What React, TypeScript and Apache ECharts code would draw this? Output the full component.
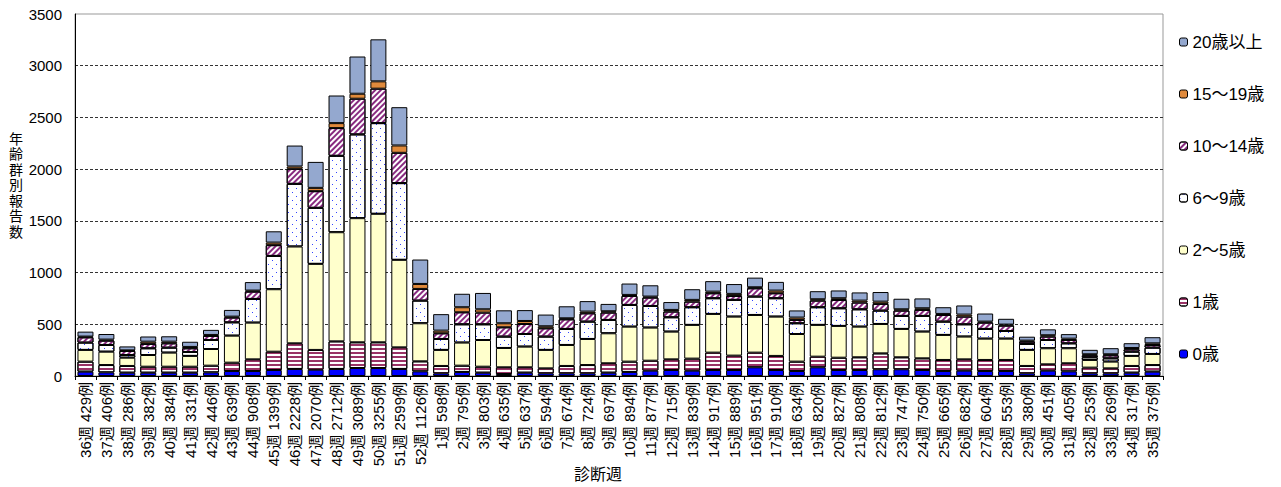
import React, { useEffect, useRef } from "react";
import * as echarts from "echarts";

const weeks = [
  "36週", "37週", "38週", "39週", "40週", "41週", "42週", "43週", "44週", "45週",
  "46週", "47週", "48週", "49週", "50週", "51週", "52週",
  "1週", "2週", "3週", "4週", "5週", "6週", "7週", "8週", "9週", "10週",
  "11週", "12週", "13週", "14週", "15週", "16週", "17週", "18週", "19週", "20週",
  "21週", "22週", "23週", "24週", "25週", "26週", "27週", "28週", "29週", "30週",
  "31週", "32週", "33週", "34週", "35週",
];

const totals = [
  429, 406, 286, 382, 384, 331, 446, 639, 908, 1399, 2228, 2070, 2712, 3089, 3255, 2599, 1126,
  598, 795, 803, 635, 637, 594, 674, 724, 697, 894, 877, 715, 839, 917, 889, 951, 910, 634,
  820, 827, 808, 812, 747, 750, 665, 682, 604, 553, 380, 451, 405, 253, 269, 317, 375,
];

const age0 = [
  42, 35, 32, 32, 32, 32, 35, 48, 48, 58, 68, 61, 68, 77, 77, 68, 45,
  26, 39, 32, 19, 32, 26, 26, 26, 32, 39, 52, 58, 52, 58, 58, 84, 58, 48,
  84, 58, 58, 65, 65, 58, 48, 52, 48, 48, 26, 52, 45, 26, 26, 32, 42,
];
const age1 = [
  97, 71, 65, 58, 58, 58, 65, 81, 113, 177, 248, 191, 267, 249, 249, 209, 97,
  71, 61, 58, 65, 52, 48, 71, 80, 91, 100, 96, 103, 116, 168, 139, 142, 136, 91,
  103, 119, 123, 154, 116, 113, 107, 109, 107, 107, 71, 61, 78, 55, 48, 65, 64,
];
const age2to5 = [
  113, 129, 80, 113, 136, 104, 161, 261, 355, 604, 936, 832, 1055, 1200, 1242, 846, 368,
  155, 223, 258, 187, 200, 178, 203, 252, 290, 338, 320, 268, 326, 374, 377, 364, 380, 267,
  307, 307, 296, 284, 274, 258, 242, 220, 206, 206, 155, 155, 145, 74, 65, 97, 107,
];
const age6to9 = [
  71, 65, 26, 65, 48, 38, 87, 129, 229, 322, 606, 542, 739, 810, 877, 742, 219,
  106, 177, 152, 110, 122, 129, 155, 168, 129, 210, 209, 139, 171, 152, 162, 178, 178, 104,
  171, 171, 168, 129, 126, 152, 129, 119, 94, 74, 58, 80, 48, 26, 32, 41, 61,
];
const age10to14 = [
  51, 42, 39, 42, 42, 36, 39, 46, 71, 104, 145, 161, 268, 345, 333, 293, 113,
  55, 116, 113, 90, 97, 80, 93, 80, 71, 87, 81, 55, 54, 48, 38, 80, 48, 32,
  64, 80, 65, 65, 51, 58, 64, 74, 61, 52, 22, 33, 32, 19, 29, 23, 26,
];
const age15to19 = [
  7, 10, 6, 22, 16, 13, 10, 9, 10, 25, 23, 32, 48, 48, 71, 71, 48,
  26, 49, 32, 39, 29, 20, 10, 17, 13, 10, 10, 16, 17, 16, 20, 10, 26, 23,
  13, 17, 19, 22, 13, 16, 10, 20, 10, 10, 10, 13, 13, 10, 10, 13, 16,
];
const age20plus = [
  48, 54, 38, 50, 52, 50, 49, 65, 82, 109, 202, 251, 267, 360, 406, 370, 236,
  159, 130, 158, 125, 105, 113, 116, 101, 71, 110, 109, 76, 103, 101, 95, 93, 84, 69,
  78, 75, 79, 93, 102, 95, 65, 88, 78, 56, 38, 57, 44, 43, 59, 46, 59,
];

const seriesNames = ["0歳", "1歳", "2～5歳", "6～9歳", "10～14歳", "15～19歳", "20歳以上"];
const yTicks = { min: 0, max: 3500, interval: 500 };
const yAxisTitle = "年齢群別報告数";
const xAxisTitle = "診断週";

const FONT = "'Liberation Sans', 'Noto Sans CJK JP', sans-serif";

export default function App() {
  const ref = useRef<HTMLDivElement>(null);

  useEffect(() => {
    if (!ref.current) return;
    const chart = echarts.init(ref.current, null, { renderer: "svg" });
    const categories = weeks.map((w, i) => `${w} ${totals[i]}例`);
    const dataSets = [age0, age1, age2to5, age6to9, age10to14, age15to19, age20plus];

    const styles: any[] = [
      { color: "#0000ff" },
      {
        color: "#ffffff",
        decal: {
          symbol: "rect", symbolSize: 1, color: "#993366",
          dashArrayX: [1, 0], dashArrayY: [2, 2], rotation: 0,
        },
      },
      { color: "#ffffcc" },
      {
        color: "#ffffff",
        decal: {
          symbol: "rect", symbolSize: 1, color: "#3344ff",
          dashArrayX: [[1, 7], [0, 4, 1, 3]], dashArrayY: [1, 3], rotation: 0,
        },
      },
      {
        color: "#ffffff",
        decal: {
          symbol: "rect", symbolSize: 1, color: "#882a80",
          dashArrayX: [1, 0], dashArrayY: [2, 2], rotation: -Math.PI / 4,
        },
      },
      { color: "#e08a3c" },
      { color: "#94a8cf" },
    ];

    const series = seriesNames.map((name, k) => ({
      name,
      type: "bar",
      stack: "total",
      barWidth: 16,
      data: dataSets[k],
      itemStyle: {
        ...styles[k],
        borderColor: "#000",
        borderWidth: 1,
      },
      emphasis: { disabled: true },
    }));

    chart.setOption({
      animation: false,
      backgroundColor: "#ffffff",
      textStyle: { fontFamily: FONT },
      grid: {
        left: 75, right: 118, top: 14, bottom: 111,
        show: true, borderColor: "#999", borderWidth: 1,
      },
      legend: {
        orient: "vertical",
        left: 1174,
        top: 28,
        itemWidth: 8,
        itemHeight: 8,
        itemGap: 34,
        data: [...seriesNames].reverse(),
        textStyle: { fontSize: 17, color: "#000", fontFamily: FONT, lineHeight: 18 },
        itemStyle: { borderColor: "#000", borderWidth: 1 },
        selectedMode: false,
      },
      xAxis: {
        type: "category",
        data: categories,
        axisLine: { lineStyle: { color: "#000", width: 1 } },
        axisTick: { show: true, length: 4, lineStyle: { color: "#000" } },
        axisLabel: {
          interval: 0, rotate: 90, fontSize: 15, color: "#000",
          fontFamily: FONT, margin: 6,
        },
      },
      yAxis: {
        type: "value",
        min: yTicks.min,
        max: yTicks.max,
        interval: yTicks.interval,
        axisLine: { show: true, lineStyle: { color: "#000", width: 1 } },
        axisTick: { show: false },
        axisLabel: {
          fontSize: 15, color: "#000", fontFamily: FONT, margin: 13,
          formatter: (v: number) => String(v),
        },
        splitLine: {
          show: true,
          showMinLine: false,
          showMaxLine: false,
          lineStyle: { color: "#333", type: [3, 2], width: 1 },
        },
      },
      graphic: [
        {
          type: "text",
          left: 9,
          top: 130,
          style: {
            text: yAxisTitle.split("").join("\n"),
            font: `14px 'Noto Sans CJK JP', sans-serif`,
            lineHeight: 15.5,
            fill: "#000",
          },
        },
        {
          type: "text",
          left: 574,
          top: 466,
          style: { text: xAxisTitle, font: `16px ${FONT}`, fill: "#000" },
        },
      ],
      series,
    });

    return () => chart.dispose();
  }, []);

  return (
    <div
      ref={ref}
      style={{ position: "fixed", left: 0, top: 0, width: 1281, height: 487, background: "#fff" }}
    />
  );
}
